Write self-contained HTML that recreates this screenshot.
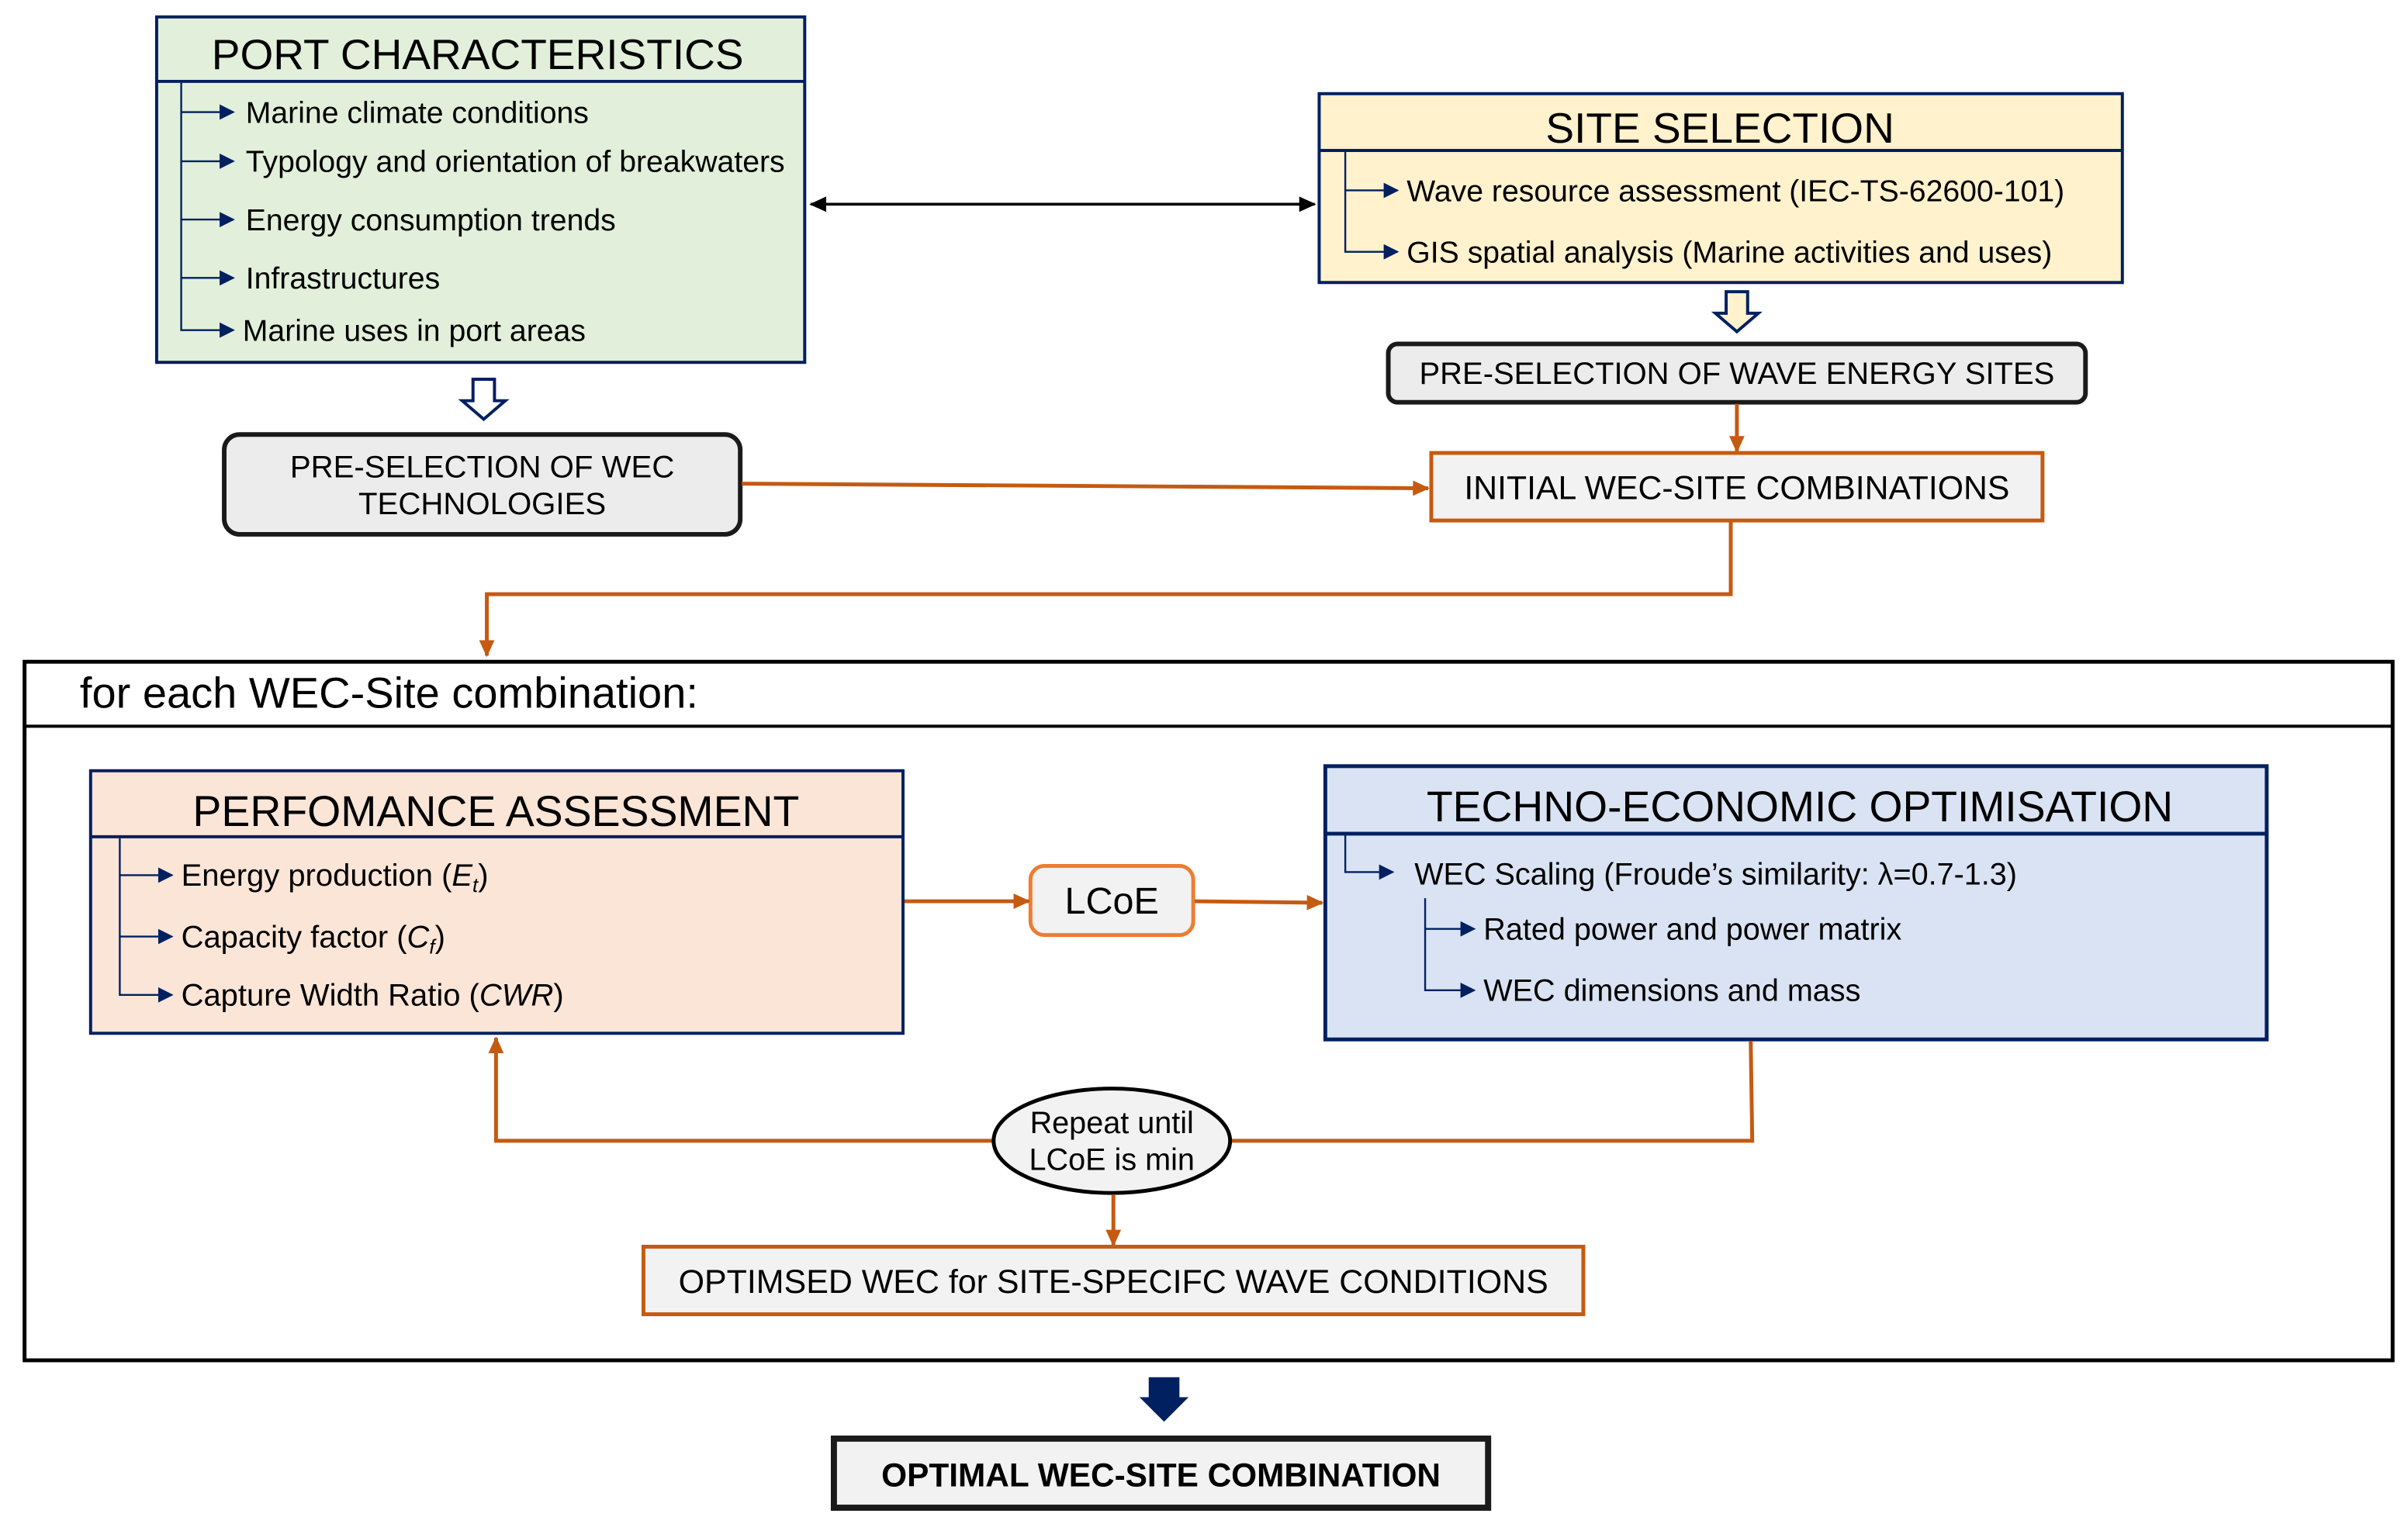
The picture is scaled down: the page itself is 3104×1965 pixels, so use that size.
<!DOCTYPE html>
<html><head><meta charset="utf-8"><style>html,body{margin:0;padding:0;background:#fff}svg{display:block}text{font-family:"Liberation Sans",Arial,sans-serif;fill:#000}</style></head>
<body>
<svg width="3104" height="1965" viewBox="0 0 1568 992.6" xmlns="http://www.w3.org/2000/svg">
<defs>
<marker id="na" markerWidth="10" markerHeight="10" refX="9" refY="5" orient="auto" markerUnits="userSpaceOnUse"><path d="M0,0 L10,5 L0,10 z" fill="#002060"/></marker>
<marker id="oa" markerWidth="11" markerHeight="10" refX="10" refY="5" orient="auto" markerUnits="userSpaceOnUse"><path d="M0,0 L11,5 L0,10 z" fill="#c55a11"/></marker>
<marker id="ba" markerWidth="11" markerHeight="10" refX="10" refY="5" orient="auto-start-reverse" markerUnits="userSpaceOnUse"><path d="M0,0 L11,5 L0,10 z" fill="#000"/></marker>
</defs>

<rect x="102" y="11" width="422" height="225" fill="#e2efda" stroke="#002060" stroke-width="2"/>
<line x1="102" y1="53" x2="524" y2="53" stroke="#002060" stroke-width="2"/>
<text x="311" y="45" font-size="27.8" text-anchor="middle">PORT CHARACTERISTICS</text>
<polyline points="118,54 118,215 152,215" fill="none" stroke="#002060" stroke-width="1.2" marker-end="url(#na)"/>
<g stroke="#002060" stroke-width="1.2" marker-end="url(#na)">
<line x1="118" y1="73" x2="152" y2="73"/><line x1="118" y1="105" x2="152" y2="105"/><line x1="118" y1="143" x2="152" y2="143"/><line x1="118" y1="181" x2="152" y2="181"/></g>
<g font-size="19.8"><text x="160" y="80">Marine climate conditions</text><text x="160" y="112">Typology and orientation of breakwaters</text><text x="160" y="150">Energy consumption trends</text><text x="160" y="188">Infrastructures</text><text x="158" y="222">Marine uses in port areas</text></g>

<rect x="859" y="61" width="523" height="123" fill="#fff2cc" stroke="#002060" stroke-width="2"/>
<line x1="859" y1="98" x2="1382" y2="98" stroke="#002060" stroke-width="2"/>
<text x="1120" y="93" font-size="27.8" text-anchor="middle">SITE SELECTION</text>
<polyline points="876,99 876,164 910,164" fill="none" stroke="#002060" stroke-width="1.2" marker-end="url(#na)"/>
<line x1="876" y1="124" x2="910" y2="124" stroke="#002060" stroke-width="1.2" marker-end="url(#na)"/>
<g font-size="19.8"><text x="916" y="131">Wave resource assessment (IEC-TS-62600-101)</text><text x="916" y="171">GIS spatial analysis (Marine activities and uses)</text></g>

<line x1="528" y1="133" x2="856" y2="133" stroke="#000" stroke-width="1.8" marker-start="url(#ba)" marker-end="url(#ba)"/>

<path d="M308,247 H322 V261 H329 L315,273 L301,261 H308 Z" fill="#fff" stroke="#002060" stroke-width="2"/>
<path d="M1124,190 H1138 V204 H1145 L1131,216 L1117,204 H1124 Z" fill="#fff2cc" stroke="#002060" stroke-width="2"/>

<rect x="146" y="283" width="336" height="65" rx="10" fill="#ececec" stroke="#1a1a1a" stroke-width="3"/>
<text x="314" y="311" font-size="20.3" text-anchor="middle">PRE-SELECTION OF WEC</text>
<text x="314" y="335" font-size="20.3" text-anchor="middle">TECHNOLOGIES</text>
<rect x="904" y="224" width="454" height="38" rx="6" fill="#ececec" stroke="#1a1a1a" stroke-width="3"/>
<text x="1131" y="250" font-size="20.2" text-anchor="middle">PRE-SELECTION OF WAVE ENERGY SITES</text>

<line x1="1131" y1="263" x2="1131" y2="294" stroke="#c55a11" stroke-width="2.5" marker-end="url(#oa)"/>
<rect x="932" y="295" width="398" height="44" fill="#f2f2f2" stroke="#c55a11" stroke-width="2.5"/>
<text x="1131" y="325" font-size="21.6" text-anchor="middle">INITIAL WEC-SITE COMBINATIONS</text>
<line x1="483" y1="315" x2="930" y2="318" stroke="#c55a11" stroke-width="2.5" marker-end="url(#oa)"/>
<polyline points="1127,340 1127,387 317,387 317,427" fill="none" stroke="#c55a11" stroke-width="2.5" marker-end="url(#oa)"/>

<rect x="16" y="431" width="1542" height="455" fill="none" stroke="#000" stroke-width="2.5"/>
<line x1="16" y1="473" x2="1558" y2="473" stroke="#000" stroke-width="2"/>
<text x="52" y="461" font-size="28.3">for each WEC-Site combination:</text>

<rect x="59" y="502" width="529" height="171" fill="#fbe5d6" stroke="#002060" stroke-width="2"/>
<line x1="59" y1="545" x2="588" y2="545" stroke="#002060" stroke-width="2"/>
<text x="323" y="538" font-size="28" text-anchor="middle">PERFOMANCE ASSESSMENT</text>
<polyline points="78,546 78,648 112,648" fill="none" stroke="#002060" stroke-width="1.2" marker-end="url(#na)"/>
<line x1="78" y1="570" x2="112" y2="570" stroke="#002060" stroke-width="1.2" marker-end="url(#na)"/>
<line x1="78" y1="610" x2="112" y2="610" stroke="#002060" stroke-width="1.2" marker-end="url(#na)"/>
<g font-size="20.2"><text x="118" y="577">Energy production (<tspan font-style="italic">E</tspan><tspan font-style="italic" font-size="13" dy="4">t</tspan><tspan dy="-4">)</tspan></text>
<text x="118" y="617">Capacity factor (<tspan font-style="italic">C</tspan><tspan font-style="italic" font-size="13" dy="4">f</tspan><tspan dy="-4">)</tspan></text>
<text x="118" y="655">Capture Width Ratio (<tspan font-style="italic">CWR</tspan>)</text></g>

<rect x="671" y="564" width="106" height="45" rx="9" fill="#f2f2f2" stroke="#ed7d31" stroke-width="2.5"/>
<text x="724" y="595" font-size="24.5" text-anchor="middle">LCoE</text>
<line x1="589" y1="587" x2="670" y2="587" stroke="#c55a11" stroke-width="2.5" marker-end="url(#oa)"/>
<line x1="778" y1="587" x2="861" y2="588" stroke="#c55a11" stroke-width="2.5" marker-end="url(#oa)"/>

<rect x="863" y="499" width="613" height="178" fill="#dae3f3" stroke="#002060" stroke-width="2.5"/>
<line x1="863" y1="543" x2="1476" y2="543" stroke="#002060" stroke-width="2.5"/>
<text x="1172" y="535" font-size="27.9" text-anchor="middle">TECHNO-ECONOMIC OPTIMISATION</text>
<polyline points="876,544 876,568 907,568" fill="none" stroke="#002060" stroke-width="1.2" marker-end="url(#na)"/>
<polyline points="928,585 928,645 960,645" fill="none" stroke="#002060" stroke-width="1.2" marker-end="url(#na)"/>
<line x1="928" y1="605" x2="960" y2="605" stroke="#002060" stroke-width="1.2" marker-end="url(#na)"/>
<g font-size="20"><text x="921" y="576">WEC Scaling (Froude’s similarity: λ=0.7-1.3)</text><text x="966" y="612">Rated power and power matrix</text><text x="966" y="652">WEC dimensions and mass</text></g>

<polyline points="1140,678 1141,743 800,743" fill="none" stroke="#c55a11" stroke-width="2.5"/>
<polyline points="647,743 323,743 323,676" fill="none" stroke="#c55a11" stroke-width="2.5" marker-end="url(#oa)"/>
<ellipse cx="724" cy="743" rx="77" ry="34" fill="#f2f2f2" stroke="#000" stroke-width="2.5"/>
<text x="724" y="738" font-size="20" text-anchor="middle">Repeat until</text>
<text x="724" y="762" font-size="20" text-anchor="middle">LCoE is min</text>
<line x1="725" y1="778" x2="725" y2="811" stroke="#c55a11" stroke-width="2.5" marker-end="url(#oa)"/>
<rect x="419" y="812" width="612" height="44" fill="#f2f2f2" stroke="#c55a11" stroke-width="2.5"/>
<text x="725" y="842" font-size="21.7" text-anchor="middle">OPTIMSED WEC for SITE-SPECIFC WAVE CONDITIONS</text>

<path d="M748,897 H768 V910 H774 L758,926 L742,910 H748 Z" fill="#002060"/>
<rect x="543" y="937" width="426" height="45" fill="#f2f2f2" stroke="#1a1a1a" stroke-width="4"/>
<text x="756" y="968" font-size="21.4" font-weight="bold" text-anchor="middle">OPTIMAL WEC-SITE COMBINATION</text>
</svg>
</body></html>
